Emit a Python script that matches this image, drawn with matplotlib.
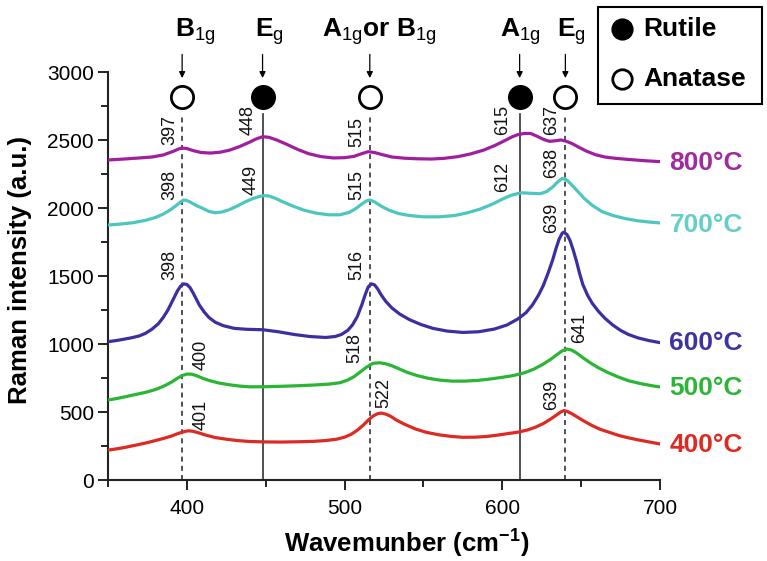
import matplotlib
matplotlib.use("Agg")
import matplotlib.pyplot as plt
from matplotlib.ticker import MultipleLocator
from matplotlib.patches import Rectangle
from matplotlib.lines import Line2D

plt.rcParams['font.family'] = ['Liberation Sans', 'DejaVu Sans']
plt.rcParams['mathtext.fontset'] = 'custom'
plt.rcParams['mathtext.rm'] = 'Liberation Sans'
plt.rcParams['mathtext.bf'] = 'Liberation Sans:bold'
plt.rcParams['mathtext.it'] = 'Liberation Sans:italic'

# ---------------- data ----------------
x_400 = [350, 355, 360, 365, 370, 375, 380, 385, 390, 394, 398, 401, 404, 408, 412, 418, 425, 432, 440, 450,
         460, 470, 480, 488, 495, 500, 504, 508, 512, 515, 518, 521, 523, 526, 529, 533, 538, 545, 552, 560,
         568, 575, 583, 590, 597, 604, 610, 616, 621, 626, 630, 634, 637, 639, 641, 644, 648, 652, 657, 662,
         668, 674, 680, 687, 694, 700]
y_400 = [220, 228, 238, 250, 262, 275, 290, 305, 322, 340, 355, 362, 358, 345, 330, 312, 300, 290, 283, 280,
         279, 281, 284, 290, 300, 315, 335, 365, 405, 440, 470, 488, 492, 485, 470, 440, 410, 375, 350, 332,
         320, 314, 315, 320, 330, 342, 352, 368, 388, 415, 443, 475, 500, 510, 505, 488, 460, 432, 400, 373,
         350, 327, 310, 293, 278, 265]

x_500 = [350, 356, 362, 368, 374, 380, 385, 390, 394, 397, 400, 403, 406, 410, 414, 420, 427, 434, 440, 450,
         460, 470, 480, 490, 497, 502, 506, 510, 514, 518, 522, 526, 530, 535, 540, 546, 553, 560, 568, 576,
         584, 592, 600, 607, 614, 620, 626, 631, 635, 638, 641, 644, 647, 651, 656, 661, 667, 673, 680, 688,
         695, 700]
y_500 = [588, 600, 615, 630, 645, 665, 688, 718, 748, 768, 779, 778, 768, 748, 732, 714, 700, 690, 685, 686,
         689, 693, 698, 705, 715, 735, 760, 795, 830, 858, 862, 855, 840, 815, 790, 768, 748, 735, 727, 727,
         732, 742, 755, 768, 788, 815, 852, 890, 925, 950, 963, 955, 935, 900, 860, 825, 790, 760, 730, 708,
         693, 684]

x_600 = [350, 355, 360, 365, 370, 374, 378, 382, 385, 388, 391, 394, 396, 398, 400, 402, 404, 406, 408, 411,
         414, 418, 423, 430, 438, 448, 458, 468, 478, 488, 494, 498, 502, 505, 508, 511, 513, 515, 517, 519,
         521, 523, 526, 530, 535, 541, 548, 556, 565, 575, 585, 595, 603, 610, 615, 619, 623, 626, 629, 632,
         634, 636, 638, 639, 641, 643, 645, 647, 649, 651, 654, 657, 661, 665, 670, 675, 680, 686, 693, 700]
y_600 = [1017, 1025, 1035, 1046, 1060, 1080, 1110, 1150, 1195, 1250, 1320, 1390, 1425, 1442, 1438, 1415, 1375,
         1330, 1285, 1235, 1195, 1160, 1135, 1115, 1108, 1105, 1090, 1070, 1055, 1048, 1055, 1070, 1100, 1140,
         1200, 1290, 1360, 1420, 1442, 1435, 1405, 1365, 1315, 1265, 1220, 1180, 1145, 1115, 1095, 1085, 1090,
         1110, 1140, 1185, 1230, 1285, 1360, 1430, 1520, 1620, 1700, 1770, 1815, 1822, 1805, 1760, 1690, 1610,
         1520, 1440, 1360, 1300, 1240, 1190, 1140, 1100, 1070, 1045, 1025, 1010]

x_700 = [350, 358, 366, 374, 380, 385, 390, 394, 396, 398, 400, 403, 406, 410, 414, 418, 422, 427, 432, 437,
         442, 446, 449, 452, 456, 461, 467, 474, 482, 490, 497, 503, 507, 511, 514, 516, 519, 523, 528, 534,
         541, 550, 560, 570, 578, 586, 594, 600, 606, 612, 618, 624, 628, 632, 635, 638, 641, 644, 648, 652,
         657, 663, 670, 678, 686, 693, 700]
y_700 = [1875, 1882, 1892, 1910, 1930, 1955, 1990, 2025, 2045, 2059, 2055, 2038, 2018, 1998, 1975, 1965, 1970,
         1988, 2015, 2045, 2070, 2085, 2091, 2088, 2072, 2045, 2015, 1985, 1962, 1950, 1950, 1968, 1995, 2030,
         2053, 2059, 2045, 2015, 1985, 1960, 1945, 1935, 1935, 1945, 1965, 1992, 2030, 2065, 2095, 2112, 2108,
         2105, 2120, 2155, 2190, 2218, 2205, 2170, 2120, 2070, 2020, 1975, 1945, 1922, 1906, 1897, 1890]

x_800 = [350, 360, 370, 378, 385, 391, 395, 397, 400, 404, 409, 415, 421, 427, 433, 439, 444, 448, 452, 457,
         463, 470, 477, 485, 493, 500, 506, 511, 515, 519, 524, 530, 538, 546, 555, 563, 572, 580, 588, 595,
         601, 606, 610, 614, 618, 622, 626, 630, 634, 637, 640, 644, 648, 653, 659, 665, 672, 680, 690, 700]
y_800 = [2353, 2360, 2368, 2375, 2390, 2415, 2435, 2441, 2437, 2422, 2408, 2404, 2410, 2425, 2450, 2480, 2508,
         2524, 2520, 2500, 2470, 2432, 2400, 2378, 2368, 2370, 2380, 2400, 2414, 2408, 2392, 2375, 2366, 2362,
         2360, 2365, 2378, 2398, 2425, 2458, 2492, 2522, 2540, 2548, 2548, 2528, 2505, 2490, 2495, 2500, 2493,
         2475, 2450, 2420, 2392, 2375, 2365, 2357, 2348, 2341]

series_names = ['400°C', '500°C', '600°C', '700°C', '800°C']
series_x = [x_400, x_500, x_600, x_700, x_800]
series_y = [y_400, y_500, y_600, y_700, y_800]
line_colors = ['#DD2A22', '#2AB534', '#3B2FA2', '#4CC6BE', '#A01F9E']
label_colors = ['#DD2A22', '#2DB537', '#3D34A3', '#64CFC8', '#A02BA0']
label_y = [257, 676, 1007, 1875, 2331]

# peak annotations (text, x, y bottom)
peak_labels = [
    ('397', 389, 2463), ('448', 439, 2537), ('515', 507.5, 2449), ('615', 600.5, 2537), ('637', 631, 2537),
    ('398', 389, 2059), ('449', 440.5, 2096), ('515', 507.5, 2059), ('612', 600.5, 2118), ('638', 631, 2221),
    ('398', 389, 1471), ('516', 507.5, 1471), ('639', 631, 1816),
    ('400', 409, 809), ('518', 506.5, 860), ('641', 649, 1007),
    ('401', 409, 368), ('522', 525, 529), ('639', 631, 515),
]

# reference lines: position, phase (True = rutile), mode label
ref_pos = [397, 448, 516, 611, 640]
ref_rutile = [False, True, False, True, False]
ref_modes = [r'$\mathbf{B}_{\mathrm{1g}}$', r'$\mathbf{E}_{\mathrm{g}}$',
             r'$\mathbf{A}_{\mathrm{1g}}\mathbf{or\ B}_{\mathrm{1g}}$',
             r'$\mathbf{A}_{\mathrm{1g}}$', r'$\mathbf{E}_{\mathrm{g}}$']
mode_x = [392.5, 443, 485.5, 598.5, 634.5]

# ---------------- figure ----------------
fig = plt.figure(figsize=(7.67, 5.61), dpi=100)
ax = fig.add_axes([108/767, 81/561, 552/767, 408/561])

for xs, ys, c in zip(series_x, series_y, line_colors):
    ax.plot(xs, ys, color=c, lw=2.3, solid_capstyle='round', solid_joinstyle='round', zorder=3)

for name, yl, c in zip(series_names, label_y, label_colors):
    ax.text(706, yl, name, color=c, fontsize=19, fontweight='bold', va='center', ha='left', clip_on=False)

for t, xp, yp in peak_labels:
    ax.text(xp, yp, t, rotation=90, fontsize=13, ha='center', va='bottom', color='#111111', zorder=4)

for xp, rut, mode, mx in zip(ref_pos, ref_rutile, ref_modes, mode_x):
    ax.plot([xp, xp], [0, 2690], color='#333333', lw=1.2, ls='-' if rut else (0, (3, 2.5)),
            zorder=2, clip_on=False)
    ax.plot([xp], [2816], marker='o', ms=16, mec='black', mew=2.0,
            mfc='black' if rut else 'white', clip_on=False, zorder=5)
    ax.annotate('', xy=(xp, 2935), xytext=(xp, 3150),
                arrowprops=dict(arrowstyle='-|>', color='black', lw=0.9, mutation_scale=9),
                annotation_clip=False)
    ax.text(mx, 3257, mode, fontsize=19, ha='left', va='baseline', clip_on=False)

ax.set_xlim(350, 700)
ax.set_ylim(0, 3000)
ax.xaxis.set_major_locator(MultipleLocator(100))
ax.xaxis.set_minor_locator(MultipleLocator(50))
ax.yaxis.set_major_locator(MultipleLocator(500))
ax.yaxis.set_minor_locator(MultipleLocator(250))
ax.tick_params(which='major', direction='out', length=7, width=1.4, labelsize=15, color='#222222')
ax.tick_params(which='minor', direction='out', length=5, width=1.4, color='#222222')
ax.tick_params(axis='x', pad=7)
ax.tick_params(axis='y', pad=3)
for s in ['top', 'right']:
    ax.spines[s].set_visible(False)
for s in ['left', 'bottom']:
    ax.spines[s].set_linewidth(1.5)
    ax.spines[s].set_color('#222222')

fig.text(407/767, 1 - 553/561, r'Wavemunber (cm$^{\mathbf{-1}}$)', fontsize=18.5, fontweight='bold',
         ha='center', va='baseline')
fig.text(20/767, 1 - 270/561, 'Raman intensity (a.u.)', fontsize=18.5, fontweight='bold',
         ha='center', va='center', rotation=90)

# legend box
fig.add_artist(Rectangle((598/767, 1 - 104/561), 164/767, 97/561, transform=fig.transFigure,
                         fill=False, ec='black', lw=1.5))
fig.add_artist(Line2D([622/767], [1 - 29/561], marker='o', ms=14, mfc='black', mec='black', mew=2,
                      transform=fig.transFigure))
fig.add_artist(Line2D([622/767], [1 - 79/561], marker='o', ms=14, mfc='white', mec='black', mew=2,
                      transform=fig.transFigure))
fig.text(643/767, 1 - 29/561, 'Rutile', fontsize=19, fontweight='bold', va='center', ha='left')
fig.text(643/767, 1 - 79/561, 'Anatase', fontsize=19, fontweight='bold', va='center', ha='left')

fig.savefig('out.png', dpi=100)
